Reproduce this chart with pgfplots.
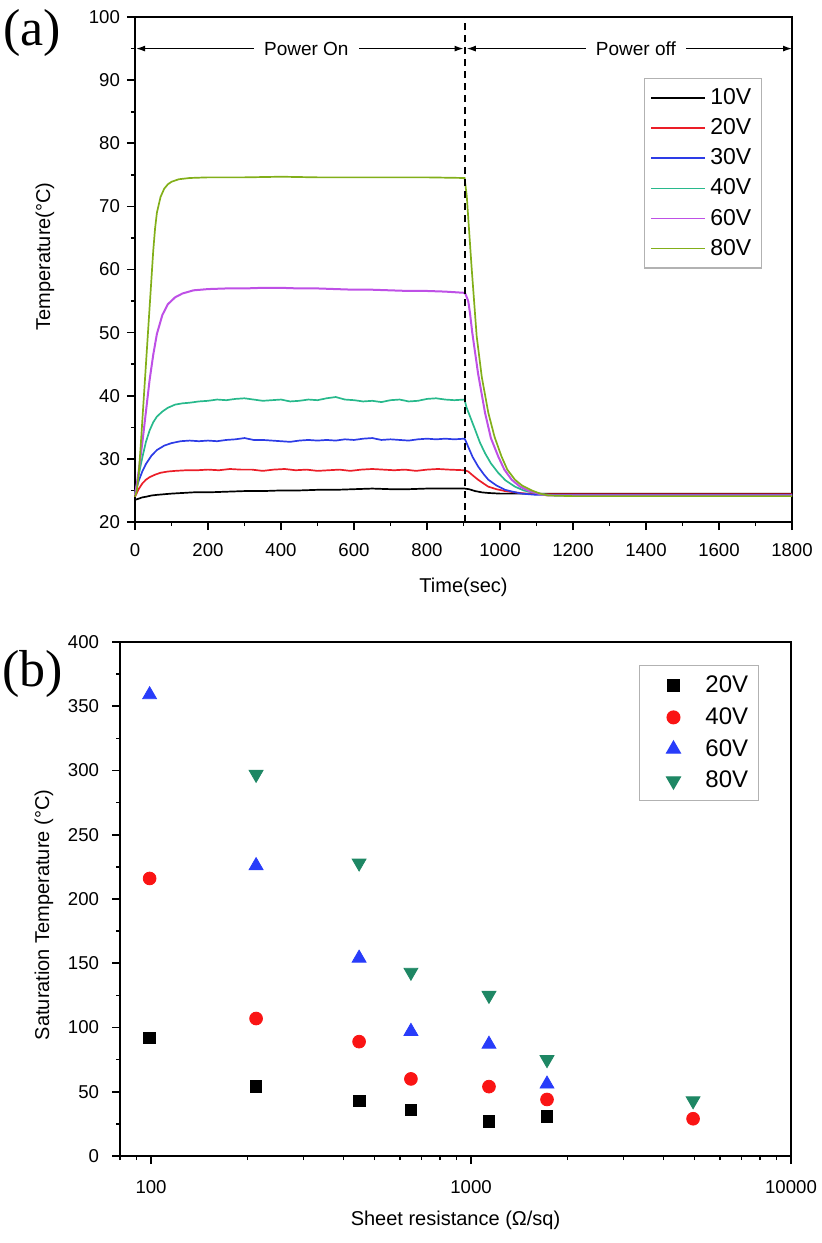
\documentclass[border=0pt]{standalone}
\usepackage{fontspec}
\setmainfont{Liberation Sans}
\newfontfamily\serifpanel{Liberation Serif}
\usepackage{pgfplots}
\pgfplotsset{compat=1.18}
\usetikzlibrary{arrows.meta}

\definecolor{cA}{RGB}{235,30,40}
\definecolor{cB}{RGB}{45,60,230}
\definecolor{cC}{RGB}{40,185,140}
\definecolor{cD}{RGB}{190,80,230}
\definecolor{cE}{RGB}{130,175,25}
\definecolor{mR}{RGB}{250,20,20}
\definecolor{mB}{RGB}{40,60,250}
\definecolor{mG}{RGB}{30,135,100}

\pgfplotsset{
  common/.style={
    scale only axis,
    axis line style={line width=0.9pt},
    tick align=outside,
    tick pos=left,
    major tick length=4pt,
    minor tick length=2pt,
    every tick/.style={black,line width=0.8pt},
    tick label style={font=\fontsize{9.3}{10}\selectfont},
    /pgf/number format/assume math mode=true,
    /pgf/number format/1000 sep={},
    label style={font=\fontsize{12.5}{14}\selectfont},
  },
}

\begin{document}
\begin{tikzpicture}
\useasboundingbox (0,0) rectangle (410.5pt,-621.5pt);

\node at (16pt,-16.5pt) {\serifpanel\fontsize{26}{26}\selectfont (a)};
\node at (16.5pt,-337pt) {\serifpanel\fontsize{26}{26}\selectfont (b)};

% (a) heating / cooling curves
\begin{axis}[common,
  at={(67.5pt,-261pt)}, anchor=south west,
  width=328.5pt, height=252.5pt,
  xmin=0, xmax=1800, ymin=20, ymax=100,
  xtick={0,200,...,1800}, ytick={20,30,...,100},
  minor x tick num=1, minor y tick num=1,
  xticklabel style={yshift=-3pt},
  clip=false,
  xlabel={Time(sec)}, ylabel={Temperature(°C)},
  every axis x label/.style={at={(axis description cs:0.5,0)},anchor=center,yshift=-32.5pt},
  every axis y label/.style={at={(axis description cs:-0.137,0.526)},anchor=center,rotate=90},
  legend image code/.code={\draw[#1,line width=0.9pt] (0pt,0pt) -- (27pt,0pt);},
  legend style={at={(rel axis cs:0.954,0.879)}, anchor=north east,
    draw=gray!60, line width=0.6pt, font=\fontsize{11.5}{12}\selectfont,
    row sep=1.5pt, inner xsep=3pt, inner ysep=3pt,
    cells={anchor=west}},
]
\addplot[black, line width=0.85pt] coordinates {
(0,23.5) (5,23.6) (10,23.7) (20,23.9) (30,24.0) (45,24.2) (60,24.3) (80,24.4) (100,24.5) (130,24.6) (160,24.7) (200,24.7) (250,24.8) (300,24.9) (350,24.9) (400,25.0) (450,25.0) (500,25.1) (550,25.1) (600,25.2) (650,25.3) (700,25.2) (750,25.2) (800,25.3) (850,25.3) (903,25.3) (915,25.2) (932,24.9) (950,24.7) (968,24.6) (1000,24.5) (1200,24.5) (1500,24.5) (1800,24.5)};
\addlegendentry{10V}
\addplot[cA, line width=0.85pt] coordinates {
(0,24.0) (5,24.6) (10,25.2) (20,26.1) (30,26.7) (40,27.1) (55,27.5) (70,27.8) (90,28.0) (110,28.1) (140,28.2) (170,28.2) (200,28.3) (230,28.2) (260,28.4) (290,28.3) (320,28.3) (350,28.1) (380,28.3) (410,28.4) (440,28.2) (470,28.3) (500,28.1) (530,28.2) (560,28.3) (590,28.1) (620,28.3) (650,28.4) (680,28.3) (710,28.2) (740,28.3) (770,28.1) (800,28.3) (830,28.4) (860,28.3) (903,28.2) (913,28.0) (925,27.4) (940,26.7) (955,26.1) (968,25.6) (990,25.2) (1014,24.9) (1040,24.7) (1070,24.5) (1100,24.4) (1400,24.4) (1800,24.4)};
\addlegendentry{20V}
\addplot[cB, line width=0.85pt] coordinates {
(0,24.3) (5,25.5) (10,26.5) (20,28.0) (30,29.2) (45,30.5) (60,31.4) (80,32.1) (100,32.5) (125,32.8) (150,32.9) (175,32.8) (200,32.9) (225,32.8) (250,33.0) (275,33.1) (300,33.3) (325,33.0) (350,33.0) (375,32.9) (400,32.8) (425,32.7) (450,32.9) (475,33.0) (500,32.9) (525,33.0) (550,32.9) (575,33.1) (600,33.0) (625,33.2) (650,33.3) (675,33.0) (700,33.1) (725,33.0) (750,32.9) (775,33.1) (800,33.2) (825,33.1) (850,33.2) (875,33.1) (903,33.2) (908,32.6) (913,31.9) (925,30.3) (940,28.8) (955,27.6) (968,26.7) (990,25.8) (1014,25.1) (1035,24.8) (1059,24.5) (1100,24.3) (1400,24.3) (1800,24.3)};
\addlegendentry{30V}
\addplot[cC, line width=0.85pt] coordinates {
(0,24.5) (5,26.0) (10,27.4) (20,30.2) (30,32.7) (40,34.5) (50,35.8) (60,36.7) (75,37.5) (90,38.1) (110,38.6) (130,38.8) (150,38.9) (175,39.1) (200,39.2) (225,39.4) (250,39.3) (275,39.5) (300,39.6) (325,39.4) (350,39.2) (375,39.3) (400,39.4) (425,39.1) (450,39.2) (475,39.4) (500,39.3) (525,39.6) (550,39.8) (575,39.4) (600,39.3) (625,39.1) (650,39.2) (675,39.0) (700,39.3) (725,39.4) (750,39.1) (775,39.2) (800,39.5) (825,39.6) (850,39.4) (875,39.3) (903,39.4) (908,38.2) (918,36.7) (932,34.6) (945,32.6) (959,30.9) (975,29.3) (995,27.8) (1015,26.6) (1041,25.6) (1065,25.0) (1087,24.7) (1120,24.4) (1150,24.2) (1400,24.2) (1800,24.2)};
\addlegendentry{40V}
\addplot[cD, line width=1pt] coordinates {
(0,24.2) (5,26.0) (10,28.0) (20,32.5) (30,37.5) (40,42.5) (50,46.5) (60,49.8) (75,52.8) (90,54.5) (110,55.6) (130,56.2) (160,56.7) (200,56.9) (250,57.0) (300,57.0) (350,57.1) (400,57.1) (450,57.0) (500,57.0) (550,56.9) (600,56.8) (650,56.8) (700,56.7) (750,56.6) (800,56.6) (850,56.5) (904,56.3) (909,55.6) (913,55.0) (918,53.0) (924,50.0) (940,43.5) (959,37.3) (975,33.3) (995,30.4) (1012,28.3) (1032,26.7) (1055,25.6) (1080,24.9) (1105,24.5) (1130,24.2) (1400,24.2) (1800,24.2)};
\addlegendentry{60V}
\addplot[cE, line width=0.85pt] coordinates {
(0,24.0) (5,25.0) (10,27.5) (15,31.5) (20,36.0) (25,40.5) (30,45.0) (35,49.5) (40,54.0) (45,58.5) (50,63.0) (55,66.5) (60,69.0) (70,71.5) (80,72.8) (90,73.5) (100,73.9) (120,74.3) (150,74.5) (200,74.6) (300,74.6) (400,74.7) (500,74.6) (600,74.6) (700,74.6) (800,74.6) (903,74.5) (909,71.6) (922,60.5) (936,49.5) (950,43.0) (968,37.3) (985,33.5) (1004,30.4) (1020,28.3) (1041,26.7) (1060,25.8) (1087,25.0) (1110,24.5) (1132,24.2) (1200,24.1) (1500,24.1) (1800,24.1)};
\addlegendentry{80V}
\addplot[black, line width=1pt, dash pattern=on 3.5pt off 2.5pt, forget plot] coordinates {(904,20) (904,100)};
\draw[{Latex[length=4.5pt,width=3pt]}-{Latex[length=4.5pt,width=3pt]}, line width=0.6pt]
  (axis cs:3,95) -- node[pos=0.52, fill=white, inner sep=5pt, font=\fontsize{9.5}{10}\selectfont] {Power On} (axis cs:900,95);
\draw[{Latex[length=4.5pt,width=3pt]}-{Latex[length=4.5pt,width=3pt]}, line width=0.6pt]
  (axis cs:909,95) -- node[pos=0.52, fill=white, inner sep=5pt, font=\fontsize{9.5}{10}\selectfont] {Power off} (axis cs:1800,95);
\end{axis}

% (b) saturation temperature vs sheet resistance
\begin{axis}[common,
  at={(60pt,-578pt)}, anchor=south west,
  width=335.5pt, height=257pt,
  xmode=log, log ticks with fixed point,
  xmin=80, xmax=10000, ymin=0, ymax=400,
  xtick={100,1000,10000},
  minor xtick={80,90,200,300,400,500,600,700,800,900,2000,3000,4000,5000,6000,7000,8000,9000},
  ytick={0,50,...,400}, minor y tick num=1,
  xticklabel style={yshift=-4.5pt},
  yticklabel style={xshift=-3pt},
  xlabel={Sheet resistance (Ω/sq)}, ylabel={Saturation Temperature (°C)},
  every axis x label/.style={at={(axis description cs:0.5,0)},anchor=center,yshift=-32pt},
  every axis y label/.style={at={(axis description cs:-0.1133,0.469)},anchor=center,rotate=90},
  legend image code/.code={\path[draw=none,fill=none] (0pt,-3pt) rectangle (28pt,3pt); \draw[#1] plot coordinates {(14pt,0pt)};},
  legend style={at={(rel axis cs:0.952,0.955)}, anchor=north east,
    draw=gray!60, line width=0.6pt, font=\fontsize{12}{12}\selectfont,
    row sep=2pt, inner xsep=3pt, inner ysep=3pt,
    cells={anchor=west}},
]
\addplot[only marks, mark=square*, mark size=2.9pt, black] coordinates {
(99,92) (213,54) (447,43) (649,36) (1138,27) (1728,31)};
\addlegendentry{20V}
\addplot[only marks, mark=*, mark size=3.2pt, mR, mark options={draw=mR, fill=mR}] coordinates {
(99,216) (213,107) (447,89) (649,60) (1138,54) (1728,44) (4943,29)};
\addlegendentry{40V}
\addplot[only marks, mark=triangle*, mark size=4pt, mB, mark options={draw=mB, fill=mB}] coordinates {
(99,359) (213,226) (447,154) (649,97) (1138,87) (1728,56)};
\addlegendentry{60V}
\addplot[only marks, mark=triangle*, mark size=4pt, mG, mark options={draw=mG, fill=mG, rotate=180}] coordinates {
(213,297) (447,228) (649,143) (1138,125) (1728,75) (4943,43)};
\addlegendentry{80V}
\end{axis}
\end{tikzpicture}
\end{document}
